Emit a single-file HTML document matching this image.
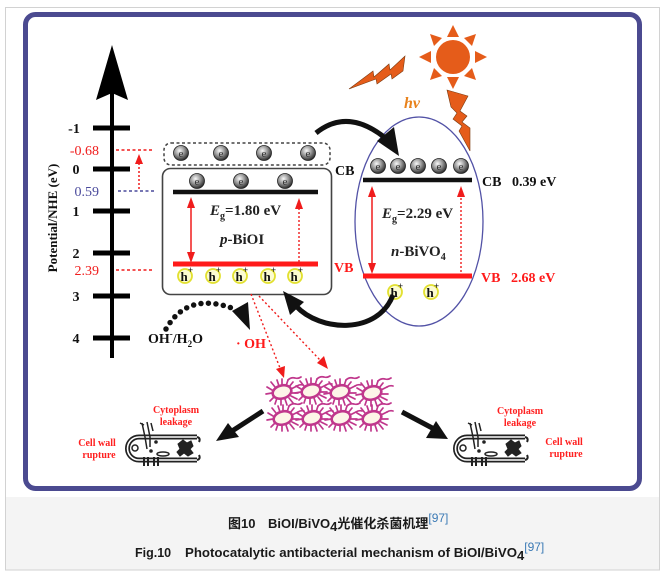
<!DOCTYPE html>
<html><head><meta charset="utf-8"><style>
html,body{margin:0;padding:0;background:#fff;}
svg{display:block;}
</style></head><body>
<svg width="669" height="576" viewBox="0 0 669 576" xmlns="http://www.w3.org/2000/svg">
<defs>
<radialGradient id="eg" cx="40%" cy="35%" r="65%">
<stop offset="0" stop-color="#fafafa"/><stop offset="0.5" stop-color="#9a9a9a"/><stop offset="1" stop-color="#2e2e2e"/>
</radialGradient>
<g id="bac">
<g stroke="#c0378c" stroke-width="1.7" fill="none" stroke-linecap="round">
<path d="M0,-7 L0,-13 M4,-6 L6,-12 M7,-5 L11,-10 M9,-3 L15,-6 M10,1 L16,1 M9,4 L15,7 M7,6 L11,11 M3,7 L5,13 M-1,7 L-1,13 M-5,6 L-7,12 M-8,5 L-12,9 M-10,1 L-16,2 M-10,-2 L-15,-5 M-7,-5 L-11,-10 M-3,-6 L-5,-12"/>
<path d="M6,-12 q3,-3 7,-2 q3,1 6,-1 M15,-6 q3,-2 6,-1"/>
</g>
<ellipse rx="9.5" ry="6.5" transform="rotate(-15)" fill="#fdf5e8" stroke="#c0378c" stroke-width="2.6"/>
</g>
<g id="cell" fill="none" stroke="#222">
<path d="M72,0 L14,0 A11.5,11.5 0 0 0 14,23 L72,23" stroke-width="5"/>
<path d="M72,0 L14,0 A11.5,11.5 0 0 0 14,23 L72,23" stroke="#fff" stroke-width="1.6"/>
<path d="M72,0 q4,1 2,5 M72,23 q4,-1 2,-5" stroke-width="2"/>
<circle cx="10" cy="11" r="3" stroke-width="1.5"/>
<path d="M17,-14 L20,0 L22,12 M22,-15 L25,0 L25,10 M26,-14 L28,-6 M15,-14 L19,-12" stroke-width="1.5"/>
<ellipse cx="38" cy="17" rx="6" ry="2" stroke-width="1.5"/>
<circle cx="26" cy="14" r="1.3" fill="#222"/>
<circle cx="31" cy="5" r="1.3" fill="#222"/>
<path d="M53,7 l5,-4 l4,3 l4,-2 l2,5 l-3,3 l3,4 l-5,3 l-4,-3 l-4,3 l-3,-4 l3,-3 z" fill="#222" stroke-width="1"/>
<path d="M19,20 L19,29 M23,20 L23,29 M29,20 L29,29 M33,20 L33,29" stroke-width="2"/>
</g>
</defs>

<!-- outer frame -->
<rect x="5.5" y="7.5" width="654" height="562.5" fill="#fff" stroke="#d2d2d2" stroke-width="1"/>
<rect x="6" y="497" width="653" height="72.5" fill="#f4f4f4"/>

<!-- blue frame -->
<rect x="25.5" y="14.5" width="614" height="474" rx="10" ry="10" fill="#fff" stroke="#4b4a90" stroke-width="5"/>

<!-- axis -->
<line x1="112" y1="92" x2="112" y2="358" stroke="#000" stroke-width="4"/>
<path d="M112,45 L128,100 L112,93 L96,100 Z" fill="#000"/>
<g stroke="#000" stroke-width="5">
<line x1="93" y1="128" x2="130" y2="128"/>
<line x1="93" y1="169" x2="130" y2="169"/>
<line x1="93" y1="211" x2="130" y2="211"/>
<line x1="93" y1="253" x2="130" y2="253"/>
<line x1="93" y1="296" x2="130" y2="296"/>
<line x1="93" y1="338" x2="130" y2="338"/>
</g>
<g font-family="'Liberation Serif',serif" font-weight="bold" font-size="14" fill="#111" text-anchor="middle">
<text x="74" y="133">-1</text>
<text x="76" y="174">0</text>
<text x="76" y="216">1</text>
<text x="76" y="258">2</text>
<text x="76" y="301">3</text>
<text x="76" y="343">4</text>
</g>
<g font-family="'Liberation Serif',serif" font-size="14" text-anchor="end">
<text x="99" y="155" fill="#f01c1c">-0.68</text>
<text x="99" y="196" fill="#4a4a9c">0.59</text>
<text x="99" y="275" fill="#f01c1c">2.39</text>
</g>
<text transform="translate(57,218) rotate(-90)" text-anchor="middle" font-family="'Liberation Serif',serif" font-weight="bold" font-size="13" fill="#111">Potential/NHE (eV)</text>

<!-- dashed level lines -->
<line x1="116" y1="150" x2="154" y2="150" stroke="#f01c1c" stroke-width="1.5" stroke-dasharray="3,2.5"/>
<line x1="118" y1="191" x2="155" y2="191" stroke="#4a4a9c" stroke-width="1.5" stroke-dasharray="3,2.5"/>
<line x1="116" y1="270" x2="154" y2="270" stroke="#f01c1c" stroke-width="1.5" stroke-dasharray="3,2.5"/>
<line x1="139" y1="189" x2="139" y2="162" stroke="#f01c1c" stroke-width="1.5" stroke-dasharray="2,2"/>
<path d="M139,154 L135,164 L143,164 Z" fill="#f01c1c"/>

<!-- dashed box -->
<rect x="164" y="143" width="166" height="22" rx="7" fill="none" stroke="#444" stroke-width="1.5" stroke-dasharray="3,2.5"/>
<!-- p-BiOI box -->
<rect x="162.5" y="168.5" width="169" height="126" rx="8" fill="none" stroke="#444" stroke-width="1.6"/>
<line x1="173" y1="192" x2="318" y2="192" stroke="#111" stroke-width="4.5"/>
<line x1="173" y1="264" x2="318" y2="264" stroke="#ff1a1a" stroke-width="5"/>

<!-- electrons -->
<g font-family="'Liberation Serif',serif" font-size="11" fill="#333" text-anchor="middle">
<circle cx="181" cy="153" r="7.5" fill="url(#eg)" stroke="#222" stroke-width="0.8"/><text x="181" y="157">e</text>
<circle cx="221" cy="153" r="7.5" fill="url(#eg)" stroke="#222" stroke-width="0.8"/><text x="221" y="157">e</text>
<circle cx="264" cy="153" r="7.5" fill="url(#eg)" stroke="#222" stroke-width="0.8"/><text x="264" y="157">e</text>
<circle cx="308" cy="153" r="7.5" fill="url(#eg)" stroke="#222" stroke-width="0.8"/><text x="308" y="157">e</text>
<circle cx="197" cy="181" r="7.5" fill="url(#eg)" stroke="#222" stroke-width="0.8"/><text x="197" y="185">e</text>
<circle cx="241" cy="181" r="7.5" fill="url(#eg)" stroke="#222" stroke-width="0.8"/><text x="241" y="185">e</text>
<circle cx="285" cy="181" r="7.5" fill="url(#eg)" stroke="#222" stroke-width="0.8"/><text x="285" y="185">e</text>
<circle cx="378" cy="166" r="7.5" fill="url(#eg)" stroke="#222" stroke-width="0.8"/><text x="378" y="170">e</text>
<circle cx="398" cy="166" r="7.5" fill="url(#eg)" stroke="#222" stroke-width="0.8"/><text x="398" y="170">e</text>
<circle cx="418" cy="166" r="7.5" fill="url(#eg)" stroke="#222" stroke-width="0.8"/><text x="418" y="170">e</text>
<circle cx="439" cy="166" r="7.5" fill="url(#eg)" stroke="#222" stroke-width="0.8"/><text x="439" y="170">e</text>
<circle cx="461" cy="166" r="7.5" fill="url(#eg)" stroke="#222" stroke-width="0.8"/><text x="461" y="170">e</text>
</g>

<!-- holes -->
<g font-family="'Liberation Serif',serif" font-weight="bold" fill="#111">
<circle cx="185" cy="276" r="7" fill="#fbfbd0" stroke="#e2e030" stroke-width="1.8"/><text x="180.5" y="281" font-size="13">h</text><text x="188" y="273" font-size="9">+</text>
<circle cx="213" cy="276" r="7" fill="#fbfbd0" stroke="#e2e030" stroke-width="1.8"/><text x="208.5" y="281" font-size="13">h</text><text x="216" y="273" font-size="9">+</text>
<circle cx="240" cy="276" r="7" fill="#fbfbd0" stroke="#e2e030" stroke-width="1.8"/><text x="235.5" y="281" font-size="13">h</text><text x="243" y="273" font-size="9">+</text>
<circle cx="268" cy="276" r="7" fill="#fbfbd0" stroke="#e2e030" stroke-width="1.8"/><text x="263.5" y="281" font-size="13">h</text><text x="271" y="273" font-size="9">+</text>
<circle cx="295" cy="276" r="7" fill="#fbfbd0" stroke="#e2e030" stroke-width="1.8"/><text x="290.5" y="281" font-size="13">h</text><text x="298" y="273" font-size="9">+</text>
<circle cx="395" cy="292" r="7" fill="#fbfbd0" stroke="#e2e030" stroke-width="1.8"/><text x="390.5" y="297" font-size="13">h</text><text x="398" y="289" font-size="9">+</text>
<circle cx="431" cy="292" r="7" fill="#fbfbd0" stroke="#e2e030" stroke-width="1.8"/><text x="426.5" y="297" font-size="13">h</text><text x="434" y="289" font-size="9">+</text>
</g>

<!-- p-BiOI arrows -->
<line x1="191" y1="205" x2="191" y2="255" stroke="#f01c1c" stroke-width="1.5"/>
<path d="M191,197 L187,208 L195,208 Z M191,263 L187,252 L195,252 Z" fill="#f01c1c"/>
<line x1="299" y1="262" x2="299" y2="206" stroke="#f01c1c" stroke-width="1.4" stroke-dasharray="2,2"/>
<path d="M299,198 L295,209 L303,209 Z" fill="#f01c1c"/>

<g font-family="'Liberation Serif',serif" font-weight="bold" font-size="15" fill="#222">
<text x="210" y="215"><tspan font-style="italic">E</tspan><tspan font-size="10" dy="4">g</tspan><tspan dy="-4">=1.80 eV</tspan></text>
<text x="220" y="244"><tspan font-style="italic">p</tspan>-BiOI</text>
<text x="382" y="218"><tspan font-style="italic">E</tspan><tspan font-size="10" dy="4">g</tspan><tspan dy="-4">=2.29 eV</tspan></text>
<text x="391" y="256"><tspan font-style="italic">n</tspan>-BiVO<tspan font-size="10" dy="4">4</tspan></text>
</g>
<g font-family="'Liberation Serif',serif" font-weight="bold" font-size="14">
<text x="335" y="175" fill="#111">CB</text>
<text x="334" y="272" fill="#ff1a1a">VB</text>
<text x="482" y="186" fill="#111">CB<tspan x="512">0.39 eV</tspan></text>
<text x="481" y="282" fill="#ff1a1a">VB<tspan x="511">2.68 eV</tspan></text>
</g>

<!-- ellipse -->
<ellipse cx="419" cy="221.5" rx="64" ry="104.5" fill="none" stroke="#5252a6" stroke-width="1.3"/>
<line x1="363" y1="180" x2="472" y2="180" stroke="#111" stroke-width="4.5"/>
<line x1="363" y1="276" x2="472" y2="276" stroke="#ff1a1a" stroke-width="5"/>
<line x1="372" y1="194" x2="372" y2="266" stroke="#f01c1c" stroke-width="1.5"/>
<path d="M372,186 L368,197 L376,197 Z M372,274 L368,263 L376,263 Z" fill="#f01c1c"/>
<line x1="461" y1="272" x2="461" y2="194" stroke="#f01c1c" stroke-width="1.4" stroke-dasharray="2,2"/>
<path d="M461,186 L457,197 L465,197 Z" fill="#f01c1c"/>

<!-- curved black arrows -->
<path d="M316,133 Q347,108 384,137" fill="none" stroke="#111" stroke-width="5"/>
<path d="M377,141 L394,127 L399,156 Z" fill="#111"/>
<path d="M393,295 C378,335 320,332 296,306" fill="none" stroke="#111" stroke-width="5"/>
<path d="M283,291 L290,315 L304,302 Z" fill="#111"/>

<!-- dotted arc -->
<path d="M166,329 Q188,290 237,310" fill="none" stroke="#111" stroke-width="5.5" stroke-linecap="round" stroke-dasharray="0,7.5"/>
<path d="M232,311 L248,302 L250,330 Z" fill="#111"/>
<text x="148" y="343" font-family="'Liberation Serif',serif" font-weight="bold" font-size="14" fill="#111">OH<tspan font-size="9" dy="-6">-</tspan><tspan dy="6">/H</tspan><tspan font-size="9" dy="4">2</tspan><tspan dy="-4">O</tspan></text>
<text x="236" y="348" font-family="'Liberation Serif',serif" font-weight="bold" font-size="14" fill="#ff1a1a">· OH</text>

<!-- red dotted to bacteria -->
<line x1="251" y1="294" x2="280" y2="368" stroke="#f01c1c" stroke-width="1.4" stroke-dasharray="2,2.5"/>
<path d="M284,378 L276,369 L285,366 Z" fill="#f01c1c"/>
<line x1="259" y1="296" x2="320" y2="360" stroke="#f01c1c" stroke-width="1.4" stroke-dasharray="2,2.5"/>
<path d="M328,369 L317,363 L324,356 Z" fill="#f01c1c"/>

<!-- bacteria -->
<use href="#bac" x="282" y="392"/>
<use href="#bac" x="311" y="391"/>
<use href="#bac" x="340" y="392"/>
<use href="#bac" x="372" y="393"/>
<use href="#bac" x="283" y="418"/>
<use href="#bac" x="312" y="418"/>
<use href="#bac" x="341" y="418"/>
<use href="#bac" x="372" y="418"/>

<!-- big arrows -->
<line x1="263" y1="411" x2="229" y2="433" stroke="#111" stroke-width="5"/>
<path d="M216,441 L228,423 L239,437 Z" fill="#111"/>
<line x1="402" y1="412" x2="436" y2="430" stroke="#111" stroke-width="5"/>
<path d="M448,439 L426,438 L436,421 Z" fill="#111"/>

<!-- cells -->
<use href="#cell" x="125" y="437"/>
<use href="#cell" x="453" y="437"/>
<g font-family="'Liberation Serif',serif" font-weight="bold" font-size="10" fill="#ff2020" text-anchor="middle">
<text x="176" y="413">Cytoplasm</text>
<text x="176" y="425">leakage</text>
<text x="97" y="446">Cell wall</text>
<text x="99" y="458">rupture</text>
<text x="520" y="414">Cytoplasm</text>
<text x="520" y="426">leakage</text>
<text x="564" y="445">Cell wall</text>
<text x="566" y="457">rupture</text>
</g>

<!-- sun -->
<g fill="#e55c1a">
<circle cx="453" cy="57" r="17"/>
<path d="M453,25 L447,37 L459,37 Z"/>
<path d="M453,89 L447,77 L459,77 Z"/>
<path d="M419,57 L431,51 L431,63 Z"/>
<path d="M487,57 L475,51 L475,63 Z"/>
<path d="M430,34 L434,46 L442,38 Z"/>
<path d="M476,34 L464,38 L472,46 Z"/>
<path d="M430,80 L442,76 L434,68 Z"/>
<path d="M476,80 L472,68 L464,76 Z"/>
<path d="M349,89 L373,71 L374,77 L389,64 L390,70 L405,56 L403,71 L392,79 L391,74 L377,84 L376,79 Z" stroke="#7a3a10" stroke-width="0.6"/>
<path d="M447,90 L468,96 L460,111 L467,116 L462,122 L470,128 L470,151 L459,131 L462,126 L453,119 L457,113 L451,107 Z" stroke="#7a3a10" stroke-width="0.6"/>
</g>
<text x="404" y="108" font-family="'Liberation Serif',serif" font-weight="bold" font-style="italic" font-size="16" fill="#e8821c">hv</text>

<!-- caption -->
<g font-family="'Liberation Sans','Noto Sans CJK SC',sans-serif" font-weight="bold" fill="#1a1a1a">
<text x="228" y="528" font-size="13">图10<tspan x="268">BiOI/BiVO</tspan><tspan font-size="13" dy="3">4</tspan><tspan dy="-3">光催化杀菌机理</tspan><tspan fill="#3b7ab5" font-weight="normal" font-size="12" dy="-6">[97]</tspan></text>
<text x="135" y="557" font-size="12.5">Fig.10<tspan x="185" textLength="332" lengthAdjust="spacingAndGlyphs">Photocatalytic antibacterial mechanism of BiOI/BiVO</tspan><tspan dy="3" font-size="13">4</tspan><tspan fill="#3b7ab5" font-weight="normal" font-size="12" dy="-9">[97]</tspan></text>
</g>
</svg>
</body></html>
